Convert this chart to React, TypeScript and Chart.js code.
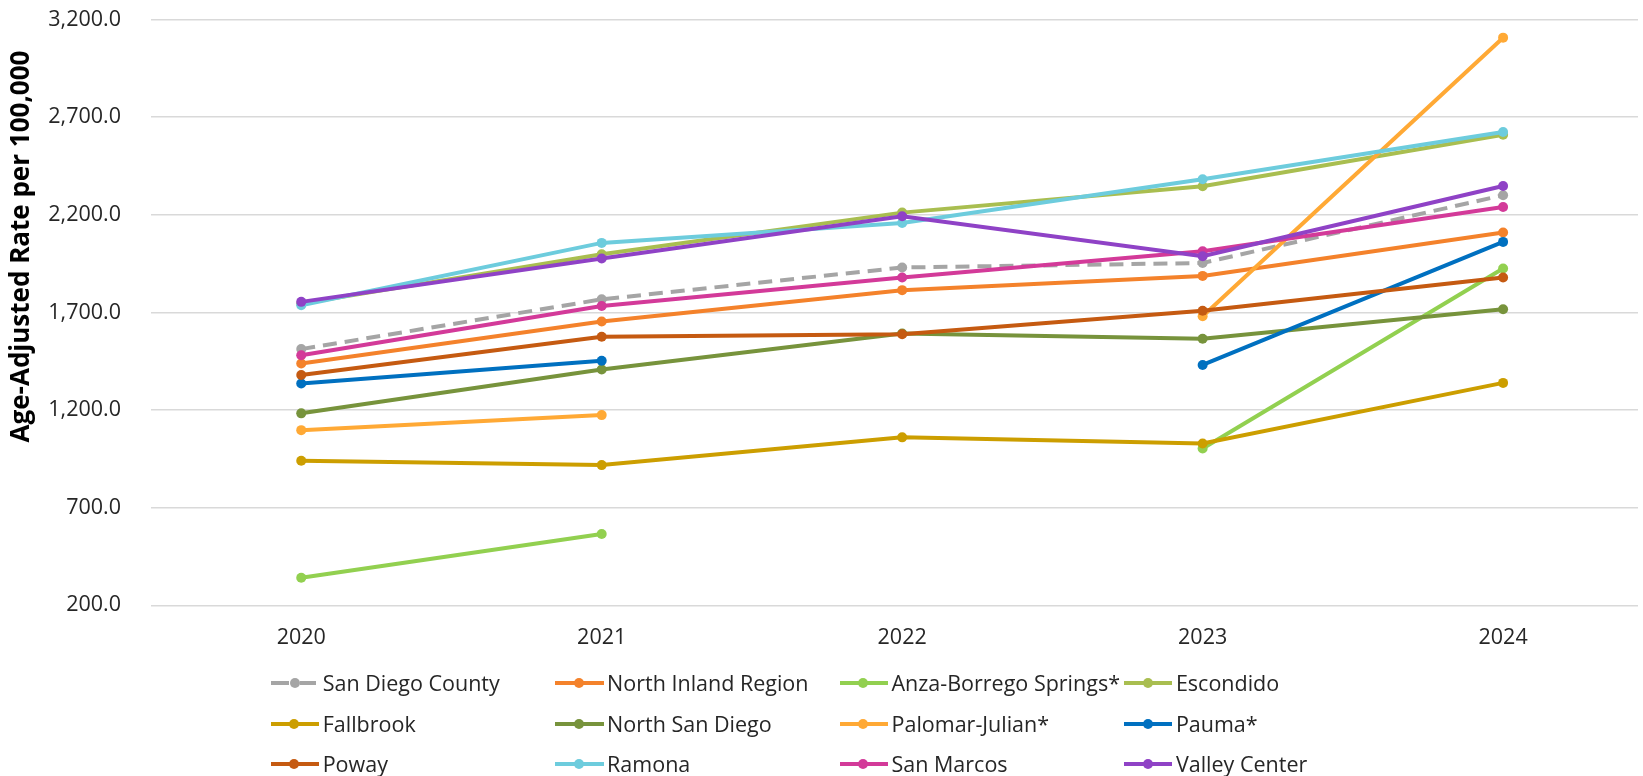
import React, { useEffect, useRef } from "react";
import { Chart, registerables } from "chart.js";

Chart.register(...registerables);

const years = [2020, 2021, 2022, 2023, 2024];
const yTicks = [200, 700, 1200, 1700, 2200, 2700, 3200];
const yTitle = "Age-Adjusted Rate per 100,000";

const seriesNames = [
  "San Diego County",
  "North Inland Region",
  "Anza-Borrego Springs*",
  "Escondido",
  "Fallbrook",
  "North San Diego",
  "Palomar-Julian*",
  "Pauma*",
  "Poway",
  "Ramona",
  "San Marcos",
  "Valley Center",
];

const sanDiegoCounty = [1512, 1767, 1930, 1953, 2300];
const northInlandRegion = [1438, 1653, 1814, 1887, 2109];
const anzaBorregoSprings = [341, 565, null, 1003, 1925];
const escondido = [1745, 1998, 2211, 2346, 2610];
const fallbrook = [940, 918, 1060, 1029, 1339];
const northSanDiego = [1183, 1408, 1592, 1565, 1716];
const palomarJulian = [1097, 1174, null, 1680, 3107];
const pauma = [1336, 1452, null, 1431, 2061];
const poway = [1379, 1575, 1588, 1708, 1879];
const ramona = [1737, 2056, 2158, 2382, 2624];
const sanMarcos = [1481, 1733, 1879, 2013, 2240];
const valleyCenter = [1754, 1976, 2192, 1988, 2347];

const seriesColors = [
  "#A5A5A5",
  "#F4822B",
  "#92D050",
  "#A9BE50",
  "#CC9E00",
  "#77933C",
  "#FFA935",
  "#0070C0",
  "#C55A11",
  "#6DCCDD",
  "#D33A99",
  "#8F42C6",
];

const FONT = "'Open Sans', sans-serif";
const TEXT_COLOR = "#262626";

const yTitlePlugin = {
  id: "yTitleCustom",
  afterDraw(chart: any) {
    const ctx = chart.ctx;
    ctx.save();
    ctx.translate(21.5, 246.5);
    ctx.rotate(-Math.PI / 2);
    ctx.font = `bold 26px ${FONT}`;
    ctx.fillStyle = "#000000";
    ctx.textAlign = "center";
    ctx.textBaseline = "middle";
    ctx.fillText(yTitle, 0, 0);
    ctx.restore();
  },
};

export default function App() {
  const ref = useRef<HTMLCanvasElement>(null);

  useEffect(() => {
    document.body.style.margin = "0";
    const values = [
      sanDiegoCounty,
      northInlandRegion,
      anzaBorregoSprings,
      escondido,
      fallbrook,
      northSanDiego,
      palomarJulian,
      pauma,
      poway,
      ramona,
      sanMarcos,
      valleyCenter,
    ];
    const chart = new Chart(ref.current as HTMLCanvasElement, {
      type: "line",
      data: {
        datasets: seriesNames.map((name, i) => ({
          label: name,
          data: years.map((yr, j) => ({ x: yr, y: values[i][j] })),
          borderColor: seriesColors[i],
          backgroundColor: seriesColors[i],
          pointBackgroundColor: seriesColors[i],
          pointBorderColor: seriesColors[i],
          pointBorderWidth: 0,
          pointRadius: 5,
          borderWidth: 4,
          borderDash: i === 0 ? [14, 8] : [],
          tension: 0,
          spanGaps: false,
          order: seriesNames.length - i,
        })),
      } as any,
      options: {
        responsive: false,
        animation: false,
        devicePixelRatio: 1,
        layout: { padding: { left: 0, right: 0, top: 19.5, bottom: 0 } },
        plugins: {
          legend: { display: false },
          tooltip: { enabled: false },
        },
        scales: {
          x: {
            type: "linear",
            min: 2019.5,
            max: 2024.449,
            grid: { display: false, drawTicks: true, tickLength: 20, tickColor: "rgba(0,0,0,0)" },
            border: { display: false },
            afterBuildTicks: (s: any) => {
              s.ticks = years.map((v) => ({ value: v }));
            },
            afterFit: (s: any) => {
              s.height = 170.7;
              s.paddingLeft = 0;
              s.paddingRight = 0;
            },
            ticks: {
              padding: 0,
              autoSkip: false,
              maxRotation: 0,
              color: TEXT_COLOR,
              font: { family: FONT, size: 21.5 },
              callback: (v: any) => String(v),
            },
          },
          y: {
            type: "linear",
            min: 200,
            max: 3200,
            afterBuildTicks: (s: any) => {
              s.ticks = yTicks.map((v) => ({ value: v }));
            },
            afterFit: (s: any) => {
              s.width = 151;
            },
            grid: {
              color: "#D9D9D9",
              lineWidth: 1.5,
              drawTicks: true,
              tickLength: 30,
              tickColor: "rgba(0,0,0,0)",
            },
            border: { display: false },
            ticks: {
              padding: 0,
              color: TEXT_COLOR,
              font: { family: FONT, size: 21.5 },
              callback: (v: any) =>
                Number(v).toLocaleString("en-US", {
                  minimumFractionDigits: 1,
                  maximumFractionDigits: 1,
                }),
            },
          },
        },
      } as any,
      plugins: [yTitlePlugin],
    });
    return () => chart.destroy();
  }, []);

  return (
    <div style={{ position: "relative", width: 1643, height: 776, overflow: "hidden", background: "#ffffff" }}>
      <canvas ref={ref} width={1643} height={776} style={{ display: "block" }} />
      {seriesNames.map((name, i) => {
        const col = i % 4;
        const row = Math.floor(i / 4);
        const left = 270.7 + col * 284.4;
        const cy = 683 + row * 40.5;
        const color = seriesColors[i];
        const dashed = i === 0;
        return (
          <div
            key={name}
            style={{
              position: "absolute",
              left,
              top: cy - 16,
              height: 32,
              display: "flex",
              alignItems: "center",
              whiteSpace: "nowrap",
            }}
          >
            <div style={{ position: "relative", width: 52, height: 32 }}>
              {dashed ? (
                <>
                  <div style={{ position: "absolute", left: 0, top: 14, width: 18.6, height: 4, background: color }} />
                  <div style={{ position: "absolute", left: 29.3, top: 14, width: 16, height: 4, background: color }} />
                </>
              ) : (
                <div style={{ position: "absolute", left: 0, top: 14, width: 48.6, height: 4, background: color }} />
              )}
              <div
                style={{
                  position: "absolute",
                  left: (dashed ? 24.3 : 23.8) - 5,
                  top: 11,
                  width: 10,
                  height: 10,
                  borderRadius: "50%",
                  background: color,
                }}
              />
            </div>
            <span style={{ fontFamily: FONT, fontSize: 21.5, color: TEXT_COLOR, lineHeight: "32px" }}>{name}</span>
          </div>
        );
      })}
    </div>
  );
}
